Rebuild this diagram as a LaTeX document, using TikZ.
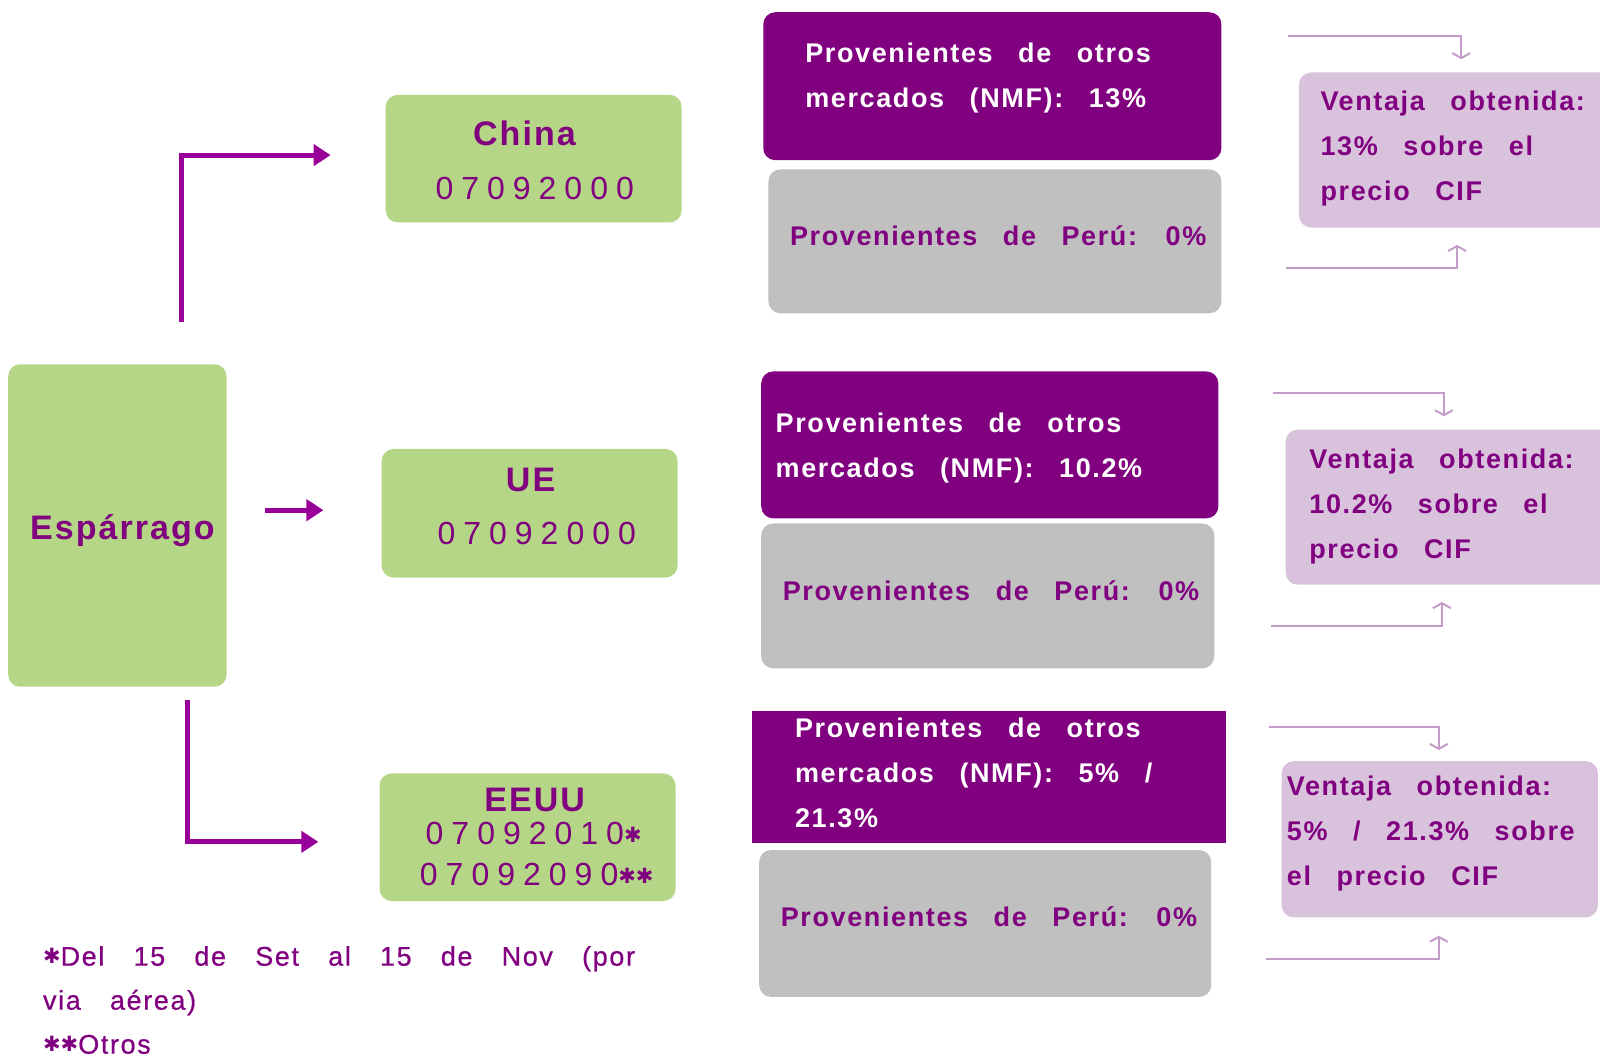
\documentclass[tikz,border=0pt]{standalone}
\usepackage{fontspec}
\setmainfont{Liberation Sans}[LetterSpace=6,WordSpace=2.8]
\newfontfamily\digitfont{Liberation Sans}[LetterSpace=25]
\newfontfamily\footfont{Liberation Sans}[LetterSpace=6,WordSpace=3.2,FakeBold=0.6]
\newfontfamily\symfont{DejaVu Sans}
\usetikzlibrary{arrows.meta}
\definecolor{pur}{HTML}{800080}
\definecolor{arrpur}{HTML}{990099}
\definecolor{grn}{HTML}{B5D686}
\definecolor{gry}{HTML}{C0C0C0}
\definecolor{lav}{HTML}{D9C3DC}
\definecolor{brk}{HTML}{C49CC8}
\newcommand{\myast}{{\symfont\fontsize{21}{21}\selectfont\raisebox{2.5pt}{✱}}}
\tikzset{
  x=1.0204pt, y=-1.0204pt,
  box/.style={inner sep=0pt, rounded corners=12pt},
  greenbox/.style={box, fill=grn},
  purbox/.style={box, fill=pur},
  graybox/.style={box, fill=gry},
  lavbox/.style={box, fill=lav},
  txt/.style={inner sep=0pt, anchor=west, align=left},
  bigtxt/.style={txt, font=\bfseries\fontsize{27}{45}\selectfont},
  whitetxt/.style={bigtxt, text=white},
  purtxt/.style={bigtxt, text=pur},
  countrytxt/.style={inner sep=0pt, text=pur, font=\bfseries\fontsize{34}{38}\selectfont},
  codetxt/.style={inner sep=0pt, text=pur, font=\digitfont\fontsize{32}{36}\selectfont},
  bigarrow/.style={draw=arrpur, line width=5pt, -{Triangle[length=17pt,width=21pt]}},
  brkarrow/.style={draw=brk, line width=2pt, -{Straight Barb[length=5pt,width=18pt,line width=2pt]}},
}
\begin{document}
\begin{tikzpicture}
\useasboundingbox (0,0) rectangle (1568,1037);

% left box
\path[greenbox] (8,357) rectangle (222,673);
\node[countrytxt] (esp) at (120,520) {Espárrago};

% country boxes
\path[greenbox] (378,93) rectangle (668,218);
\node[countrytxt] (china) at (514,131) {China};
\node[codetxt] (chinacode) at (524,185) {07092000};

\path[greenbox] (374,440) rectangle (664,566);
\node[countrytxt] (ue) at (520,470) {UE};
\node[codetxt] (uecode) at (526,523) {07092000};

\path[greenbox] (372,758) rectangle (662,883);
\node[countrytxt] (eeuu) at (524,784) {EEUU};
\node[codetxt] (eeuucode1) at (523,817) {07092010\myast};
\node[codetxt] (eeuucode2) at (526,857) {07092090\myast\myast};

% arrows from Espárrago
\coordinate (a1s) at (178,316);
\coordinate (a1e) at (324,152);
\draw[bigarrow] (a1s) |- (a1e);
\coordinate (a2s) at (260,500);
\coordinate (a2e) at (317,500);
\draw[bigarrow] (a2s) -- (a2e);
\coordinate (a3s) at (184,686);
\coordinate (a3e) at (312,825);
\draw[bigarrow] (a3s) |- (a3e);

% group 1
\path[purbox] (748,12) rectangle (1197,157);
\node[whitetxt] (nmf1) at (789,76) {Provenientes de otros\\mercados (NMF): 13\%};
\path[graybox] (753,166) rectangle (1197,307);
\node[purtxt] (peru1) at (774,231) {Provenientes de Perú: 0\%};
\path[lavbox] (1273,71) rectangle (1600,223);
\node[purtxt] (v1) at (1294,146) {Ventaja obtenida:\\13\% sobre el\\precio CIF};
\coordinate (b1a) at (1262,35);
\coordinate (b1b) at (1432,58);
\draw[brkarrow] (b1a) -| (b1b);
\coordinate (b1c) at (1260,263);
\coordinate (b1d) at (1428,240);
\draw[brkarrow] (b1c) -| (b1d);

% group 2
\path[purbox] (746,364) rectangle (1194,508);
\node[whitetxt] (nmf2) at (760,439) {Provenientes de otros\\mercados (NMF): 10.2\%};
\path[graybox] (746,513) rectangle (1190,655);
\node[purtxt] (peru2) at (767,579) {Provenientes de Perú: 0\%};
\path[lavbox] (1260,421) rectangle (1600,573);
\node[purtxt] (v2) at (1283,496) {Ventaja obtenida:\\10.2\% sobre el\\precio CIF};
\coordinate (b2a) at (1248,385);
\coordinate (b2b) at (1415,408);
\draw[brkarrow] (b2a) -| (b2b);
\coordinate (b2c) at (1246,613);
\coordinate (b2d) at (1413,590);
\draw[brkarrow] (b2c) -| (b2d);

% group 3
\path[fill=pur] (737,697) rectangle (1201,826);
\node[whitetxt] (nmf3) at (779,757) {Provenientes de otros\\mercados (NMF): 5\% /\\21.3\%};
\path[graybox] (744,833) rectangle (1187,977);
\node[purtxt] (peru3) at (765,898) {Provenientes de Perú: 0\%};
\path[lavbox] (1256,746) rectangle (1566,899);
\node[purtxt] (v3) at (1261,817) {Ventaja obtenida:\\5\% / 21.3\% sobre\\el precio CIF};
\coordinate (b3a) at (1244,712);
\coordinate (b3b) at (1410,735);
\draw[brkarrow] (b3a) -| (b3b);
\coordinate (b3c) at (1241,940);
\coordinate (b3d) at (1410,917);
\draw[brkarrow] (b3c) -| (b3d);

% footnote
\node[txt, text=pur, font=\footfont\fontsize{27}{44}\selectfont] (foot) at (42,980)
  {\myast Del 15 de Set al 15 de Nov (por\\via aérea)\\\myast\myast Otros};
\end{tikzpicture}
\end{document}
